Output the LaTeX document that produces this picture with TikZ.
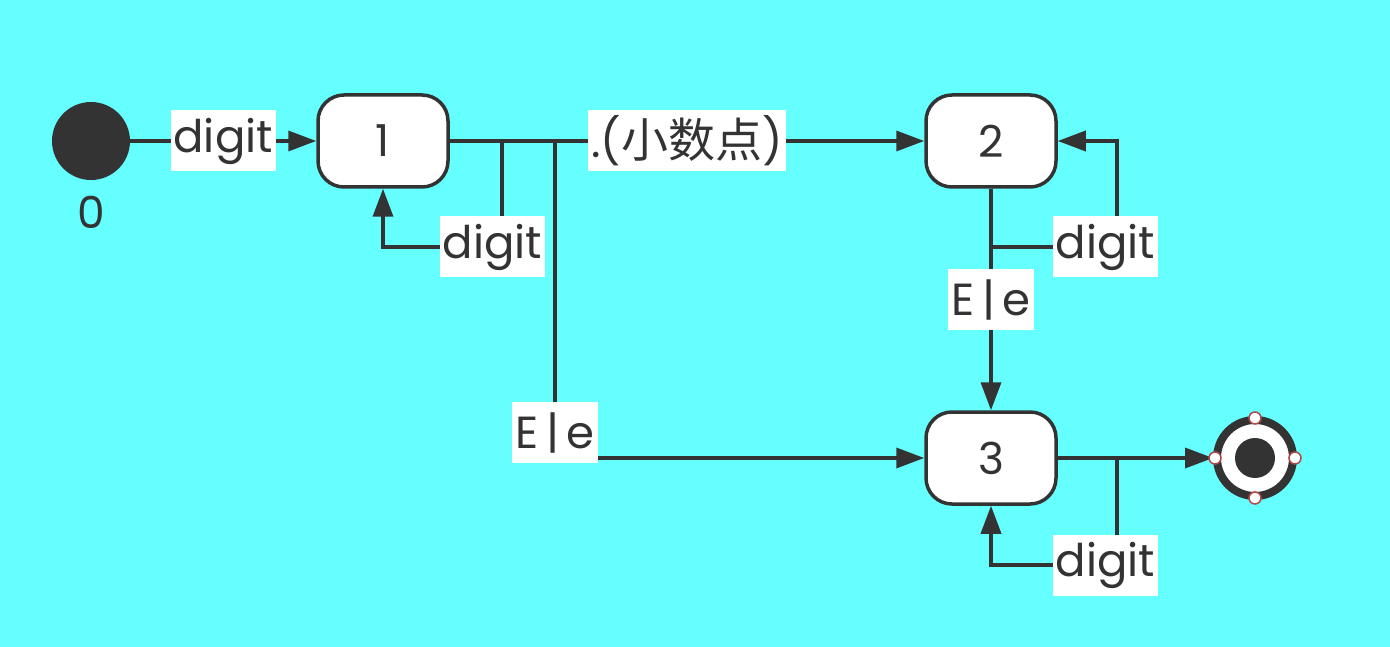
\documentclass[tikz,border=0pt]{standalone}
\usepackage{fontspec}
\setmainfont{Poppins}
\newfontfamily\cjk{Noto Sans CJK SC}
\usetikzlibrary{arrows.meta}
\definecolor{ink}{HTML}{333333}
\definecolor{bg}{HTML}{66FFFF}
\definecolor{handle}{HTML}{B04848}
\begin{document}
\begin{tikzpicture}[x=1pt,y=-1pt,
 line/.style={draw=ink,line width=3.5pt},
 arr/.style={line,-{Triangle[length=28pt,width=20pt]}},
 state/.style={draw=ink,line width=3.5pt,fill=white,rounded corners=26pt,minimum width=130pt,minimum height=92pt,inner sep=0pt,text=ink,font=\fontsize{44}{50}\selectfont},
 lbl/.style={fill=white,text=ink,inner xsep=3pt,inner ysep=0pt,minimum height=61pt,font=\fontsize{45}{50}\selectfont},
 hnd/.style={draw=handle,fill=white,line width=1.5pt}
]
\fill[bg] (0,0) rectangle (1390,647);
\useasboundingbox (0,0) rectangle (1390,647);

\node[circle,fill=ink,minimum size=78pt,inner sep=0pt] (s) at (91,141) {};
\node[text=ink,font=\fontsize{44}{50}\selectfont] (s0) at (91,212) {0};
\node[state] (n1) at (383,141) {1};
\node[state] (n2) at (991,141) {2};
\node[state] (n3) at (991,458) {3};
\node[circle,draw=ink,line width=8pt,fill=white,minimum size=76pt,inner sep=0pt] (f) at (1255,458) {};
\node[circle,fill=ink,minimum size=40pt,inner sep=0pt] (fi) at (f) {};

\coordinate (b1) at (502,141);
\coordinate (b2) at (555,141);
\coordinate (b3) at (1117,458);

\draw[arr] (s) -- node[lbl]{digit} (n1);
\draw[arr] (n1) -- node[lbl]{.({\cjk\fontsize{47}{50}\selectfont 小数点})} (n2);
\draw[arr] (b1) -- (502,247) -- node[lbl,pos=0.08]{digit} (383,247) -- (n1.south);
\draw[arr] (b2) -- node[lbl,pos=0.92]{E\,|\,e} (555,458) -- (n3.west);
\draw[arr] (n2.south) -- (991,247) -- node[lbl,pos=0.91]{digit} (1117,247) -- (1117,141) -- (n2.east);
\draw[arr] (n2) -- node[lbl]{E\,|\,e} (n3);
\draw[arr] (n3) -- (f);
\draw[arr] (b3) -- (1117,565) -- node[lbl,pos=0.09]{digit} (991,565) -- (n3.south);

\foreach \p in {(1255,418),(1295,458),(1255,498),(1215,458)}
  \draw[hnd] \p circle[radius=6pt];
\end{tikzpicture}
\end{document}
